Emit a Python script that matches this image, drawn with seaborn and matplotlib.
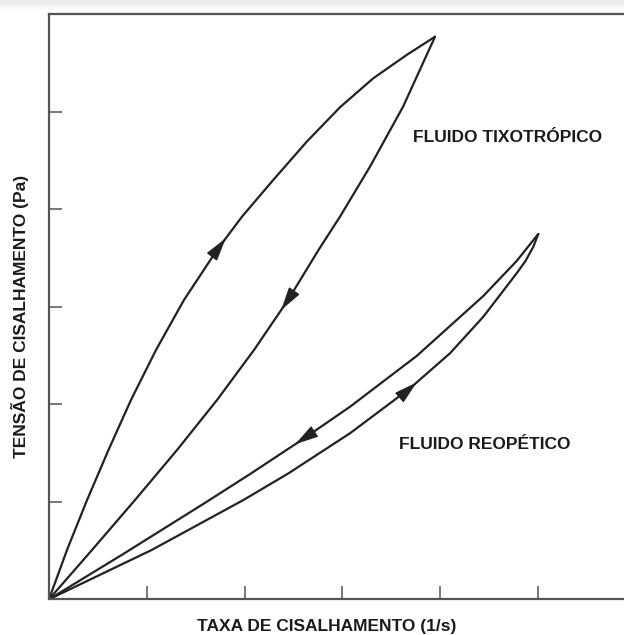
import numpy as np
import pandas as pd
import seaborn as sns
import matplotlib
matplotlib.use("Agg")
import matplotlib.pyplot as plt
from matplotlib.patches import Rectangle

# ---- data (arbitrary units) ----
tixo_up_x = [0.000, 0.184, 0.389, 0.608, 0.838, 1.094, 1.380, 1.718, 1.973, 2.293, 2.635, 2.975, 3.316, 3.657, 3.947]
tixo_up_y = [0.000, 0.506, 1.018, 1.531, 2.044, 2.557, 3.070, 3.583, 3.924, 4.301, 4.693, 5.046, 5.344, 5.583, 5.770]

tixo_down_x = [3.947, 3.620, 3.282, 2.975, 2.756, 2.444, 2.096, 1.718, 1.309, 0.879, 0.440, 0.000]
tixo_down_y = [5.770, 5.052, 4.437, 3.924, 3.583, 3.070, 2.557, 2.044, 1.531, 1.018, 0.506, 0.000]

reo_up_x = [0.000, 1.050, 1.987, 2.447, 3.078, 3.691, 4.100, 4.441, 4.782, 4.872, 4.952, 5.003]
reo_up_y = [0.000, 0.506, 1.018, 1.291, 1.703, 2.164, 2.523, 2.898, 3.344, 3.470, 3.616, 3.747]

reo_down_x = [5.003, 4.782, 4.441, 3.760, 3.078, 2.600, 2.055, 1.595, 0.760, 0.000]
reo_down_y = [3.747, 3.470, 3.111, 2.496, 1.975, 1.645, 1.284, 0.989, 0.465, 0.000]

x_ticks = [0, 1, 2, 3, 4, 5]
y_ticks = [0, 1, 2, 3, 4, 5, 6]

label_tixo = "FLUIDO TIXOTRÓPICO"
label_reo = "FLUIDO REOPÉTICO"
x_label = "TAXA DE CISALHAMENTO (1/s)"
y_label = "TENSÃO DE CISALHAMENTO (Pa)"

# ---- figure ----
sns.set_theme(style="white")
plt.rcParams["font.family"] = ["Liberation Sans", "DejaVu Sans"]

W, H = 624, 635
fig = plt.figure(figsize=(W / 100, H / 100), dpi=100)
fig.patch.set_facecolor("white")

# light gray strip at the very top
strip = ["#ebebeb", "#eeeeee", "#f1f1f1", "#f4f4f4", "#f7f7f7", "#fafafa"]
for i, c in enumerate(strip):
    y0 = 1 - (i + 3) / H
    h = 3 / H if i == 0 else 1 / H
    fig.patches.append(Rectangle((0, y0), 1, h, transform=fig.transFigure,
                                 color=c, zorder=-5))

left_px, bottom_px, top_px = 49, 599.3, 14.3
ax = fig.add_axes([left_px / W, (H - bottom_px) / H, 1 - left_px / W, (bottom_px - top_px) / H])
ax.set_facecolor("white")

line_color = "#222222"
lw = 1.6

curves = [
    (tixo_up_x, tixo_up_y),
    (tixo_down_x, tixo_down_y),
    (reo_up_x, reo_up_y),
    (reo_down_x, reo_down_y),
]
for cx, cy in curves:
    df = pd.DataFrame({"x": cx, "y": cy})
    sns.lineplot(data=df, x="x", y="y", sort=False, estimator=None, ax=ax,
                 color=line_color, linewidth=lw, solid_joinstyle="round",
                 solid_capstyle="round")


def arrow_on(cx, cy, i, frac):
    x0, y0 = cx[i], cy[i]
    x1, y1 = cx[i + 1], cy[i + 1]
    tip = (x0 + (x1 - x0) * frac, y0 + (y1 - y0) * frac)
    tail = (x0 + (x1 - x0) * (frac - 0.05), y0 + (y1 - y0) * (frac - 0.05))
    ax.annotate("", xy=tip, xytext=tail,
                arrowprops=dict(arrowstyle="-|>,head_length=0.8,head_width=0.22",
                                color=line_color, lw=1.0, mutation_scale=18,
                                shrinkA=0, shrinkB=0))


arrow_on(tixo_up_x, tixo_up_y, 7, 0.35)
arrow_on(tixo_down_x, tixo_down_y, 5, 0.2)
arrow_on(reo_up_x, reo_up_y, 5, 0.17)
arrow_on(reo_down_x, reo_down_y, 5, 0.15)

ax.set_xlim(0, (W - left_px) / 97.8)
ax.set_ylim(0, 6)
ax.set_xticks(x_ticks)
ax.set_yticks(y_ticks)
ax.set_xticklabels([])
ax.set_yticklabels([])
ax.tick_params(axis="both", direction="in", length=9.5, width=1.1, colors="#555555",
               bottom=True, left=True)

for s in ["left", "bottom", "top"]:
    ax.spines[s].set_visible(True)
    ax.spines[s].set_color("#555555")
    ax.spines[s].set_linewidth(1.6)
ax.spines["right"].set_visible(False)

ax.set_xlabel("")
ax.set_ylabel("")

text_kw = dict(fontsize=12.5, fontweight="bold", color="#1a1a1a")
ax.text(3.72, 4.74, label_tixo, ha="left", va="center", **text_kw)
ax.text(3.58, 1.59, label_reo, ha="left", va="center", **text_kw)

fig.text(327 / W, 1 - 627 / H, x_label, ha="center", va="center", **text_kw)
fig.text(20 / W, 1 - 316 / H, y_label, ha="center", va="center", rotation=90, **text_kw)

fig.savefig("out.png", dpi=100, facecolor="white")
